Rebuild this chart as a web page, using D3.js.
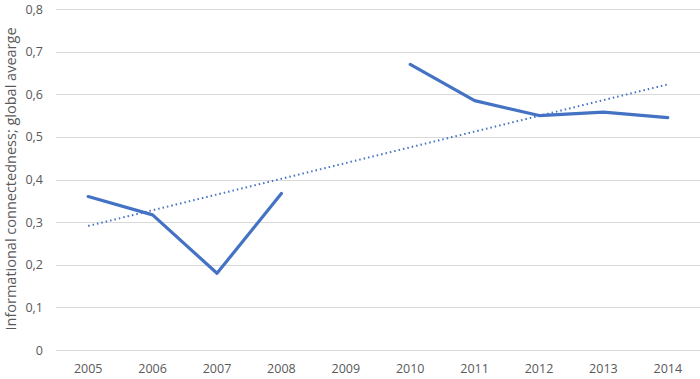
<!DOCTYPE html>
<html><head><meta charset="utf-8">
<script src="https://cdn.jsdelivr.net/npm/d3@7"></script>
<style>body{margin:0;background:#fff}svg{display:block}text{font-family:"Open Sans",Calibri,sans-serif;fill:#595959}</style>
</head><body><svg id="c" width="700" height="379"></svg>
<script>
const years = ["2005","2006","2007","2008","2009","2010","2011","2012","2013","2014"];
const values = [0.36,0.317,0.18,0.367,null,0.67,0.585,0.55,0.558,0.545];
const yTicks = [0,0.1,0.2,0.3,0.4,0.5,0.6,0.7,0.8];
const yTitle = "Informational connectedness; global avearge";

const svg = d3.select("#c");
const m = {l:56, r:0, t:9, b:29};
const W = 700, H = 379;
const x = d3.scaleBand().domain(years).range([m.l, W - m.r]);
const y = d3.scaleLinear().domain([0,0.8]).range([H - m.b, m.t]);
const fmt = d => String(d).replace(".", ",");

// gridlines
svg.append("g").selectAll("line").data(yTicks).join("line")
  .attr("x1", m.l).attr("x2", W - m.r)
  .attr("y1", d => Math.round(y(d)) + 0.5).attr("y2", d => Math.round(y(d)) + 0.5)
  .attr("stroke", "#d9d9d9").attr("stroke-width", 1);

// y tick labels
const ya = d3.axisLeft(y).tickValues(yTicks).tickFormat(fmt).tickSize(0).tickPadding(13);
const gy = svg.append("g").attr("transform", `translate(${m.l},0)`).call(ya);
gy.select(".domain").remove();
gy.selectAll("text").attr("font-size", 12.5).style("fill", "#595959").style("font-family", '"Open Sans",sans-serif');

// x tick labels
const xa = d3.axisBottom(x).tickSize(0).tickPadding(14);
const gx = svg.append("g").attr("transform", `translate(0,${H - m.b})`).call(xa);
gx.select(".domain").remove();
gx.selectAll("text").attr("font-size", 12.5).style("fill", "#595959").style("font-family", '"Open Sans",sans-serif');

// y title
svg.append("text").attr("transform", `translate(15.5,179) rotate(-90)`)
  .attr("text-anchor", "middle").attr("font-size", 14.5).text(yTitle);

const cx = d => x(d) + x.bandwidth()/2;
const pts = years.map((yr,i) => ({yr, v: values[i], i: i+1}));

// trend line (linear least squares over available points)
const valid = pts.filter(p => p.v != null);
const mx = d3.mean(valid, p => p.i), my = d3.mean(valid, p => p.v);
const slope = d3.sum(valid, p => (p.i-mx)*(p.v-my)) / d3.sum(valid, p => (p.i-mx)**2);
const icpt = my - slope*mx;
const ends = [pts[0], pts[pts.length-1]];
svg.append("path").datum(ends)
  .attr("d", d3.line().x(p => cx(p.yr)).y(p => y(icpt + slope*p.i)))
  .attr("fill","none").attr("stroke","#4472C4").attr("stroke-width",2)
  .attr("stroke-dasharray","1.5,3");

// data line
svg.append("path").datum(pts)
  .attr("d", d3.line().defined(p => p.v != null).x(p => cx(p.yr)).y(p => y(p.v)))
  .attr("fill","none").attr("stroke","#4472C4").attr("stroke-width",3.2)
  .attr("stroke-linejoin","round").attr("stroke-linecap","round");
</script></body></html>
